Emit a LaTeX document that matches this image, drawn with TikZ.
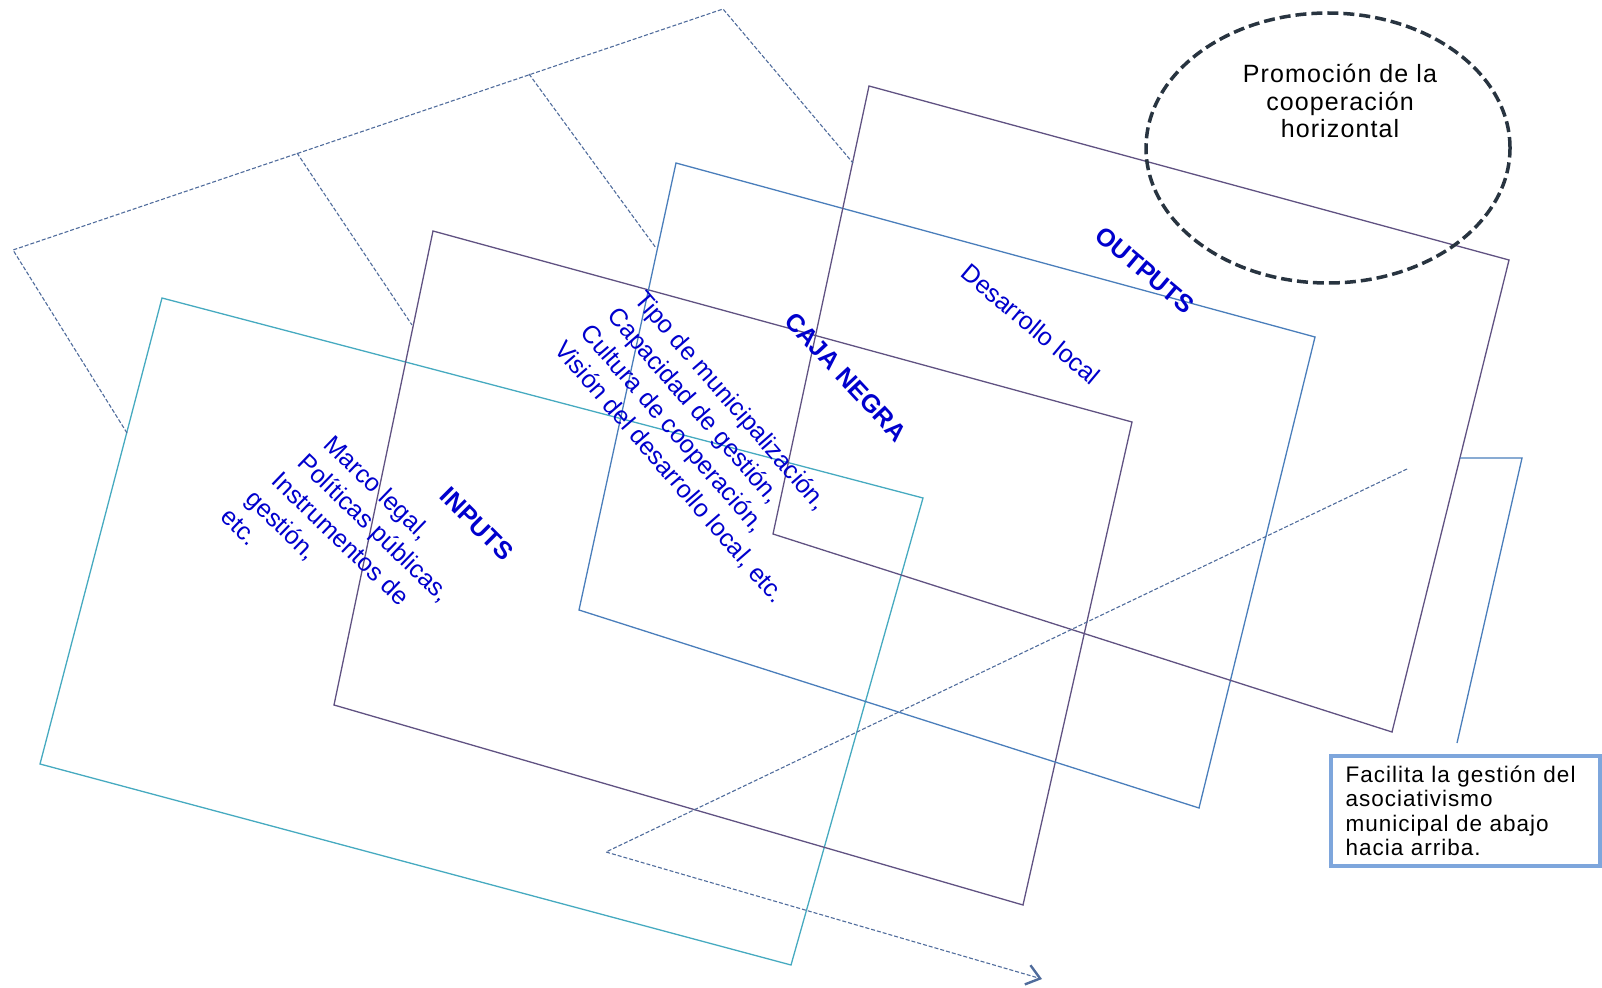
\documentclass[tikz,border=0pt]{standalone}
\usepackage{fontspec}
\setmainfont{Liberation Sans}
\newfontfamily\spacedfont[LetterSpace=4.5]{Liberation Sans}
\usetikzlibrary{arrows.meta,shapes.geometric}

\definecolor{inkblue}{RGB}{0,0,205}
\definecolor{aqualine}{RGB}{70,170,192}
\definecolor{plumline}{RGB}{96,82,130}
\definecolor{steelline}{RGB}{74,126,187}
\definecolor{guideline}{RGB}{80,108,156}
\definecolor{slate}{RGB}{40,52,64}
\definecolor{paleframe}{RGB}{126,166,220}

\begin{document}
\begin{tikzpicture}[
    x=1pt, y=-1pt,
    sheet/.style={line width=1.3pt, line join=miter},
    guide/.style={guideline, line width=1.1pt, dash pattern=on 4pt off 2pt},
    inktext/.style={inkblue, font=\fontsize{25}{31}\selectfont, inner sep=0pt, align=left},
    inkhead/.style={inkblue, font=\fontsize{25}{30}\selectfont\bfseries, inner sep=0pt},
    ring/.style={ellipse, draw=slate, line width=3.5pt, dash pattern=on 11pt off 5pt, minimum width=364pt, minimum height=270pt, inner sep=0pt},
    promo/.style={font=\spacedfont\fontsize{25}{27.5}\selectfont, align=center, inner sep=0pt},
    notebox/.style={draw=paleframe, line width=4pt, fill=white, minimum width=269pt, minimum height=110pt, text width=240pt, inner xsep=14pt, align=left, font=\spacedfont\fontsize{22.5}{24.4}\selectfont},
    arrow/.style={guideline, line width=1.1pt, dash pattern=on 4pt off 2pt, -{Straight Barb[length=13pt, width=20pt, line width=2.4pt]}}
  ]
    \useasboundingbox (0,0) rectangle (1602,987);

    % Stacked sheets
    \draw[sheet, aqualine] (162,298) -- (923,498) -- (791,965) -- (40,764) -- cycle;
    \draw[sheet, plumline] (433,231) -- (1132,422) -- (1023,905) -- (334,705) -- cycle;
    \draw[sheet, steelline] (676,163) -- (1315,337) -- (1199,808) -- (579,610) -- cycle;
    \draw[sheet, plumline] (869,86) -- (1509,260) -- (1392,732) -- (773,534) -- cycle;

    % Dashed outline behind the sheets
    \draw[guide] (127,433) -- (13,250) -- (723,9) -- (853,163);
    \draw[guide] (297,153) -- (412,325);
    \draw[guide] (529,74) -- (656,248);

    % Flow arrow
    \draw[arrow] (1407,469) -- (606,852) -- (1042,979);

    % Callout bracket
    \draw[sheet, steelline] (1460,458) -- (1522,458) -- (1457,743);

    % Labels on the sheets
    \node[inktext, rotate=-44, anchor=north west] (marco) at (335,433) {Marco legal,\\\hspace*{-6pt}Políticas públicas,\\\hspace*{-12pt}Instrumentos de\\\hspace*{-18pt}gestión,\\\hspace*{-24pt}etc.};
    \node[inkhead, rotate=-45] (inputs) at (477,524) {INPUTS};
    \node[inktext, rotate=-49, anchor=north west] (tipo) at (647,288) {Tipo de municipalización,\\\hspace*{-5pt}Capacidad de gestión,\\\hspace*{-10pt}Cultura de cooperación,\\\hspace*{-15pt}Visión del desarrollo local, etc.};
    \node[inkhead, rotate=-47] (caja) at (846,377) {CAJA NEGRA};
    \node[inktext, rotate=-40] (desarrollo) at (1031,324) {Desarrollo local};
    \node[inkhead, rotate=-40] (outputs) at (1145,270) {OUTPUTS};

    % Ring and note
    \node[ring] (circ) at (1328,148) {};
    \node[promo] (promo) at (1340,101) {Promoción de la\\cooperación\\horizontal};
    \node[notebox, anchor=north west] (note) at (1329,754) {Facilita la gestión del\\asociativismo\\municipal de abajo\\hacia arriba.};

  \end{tikzpicture}
\end{document}
